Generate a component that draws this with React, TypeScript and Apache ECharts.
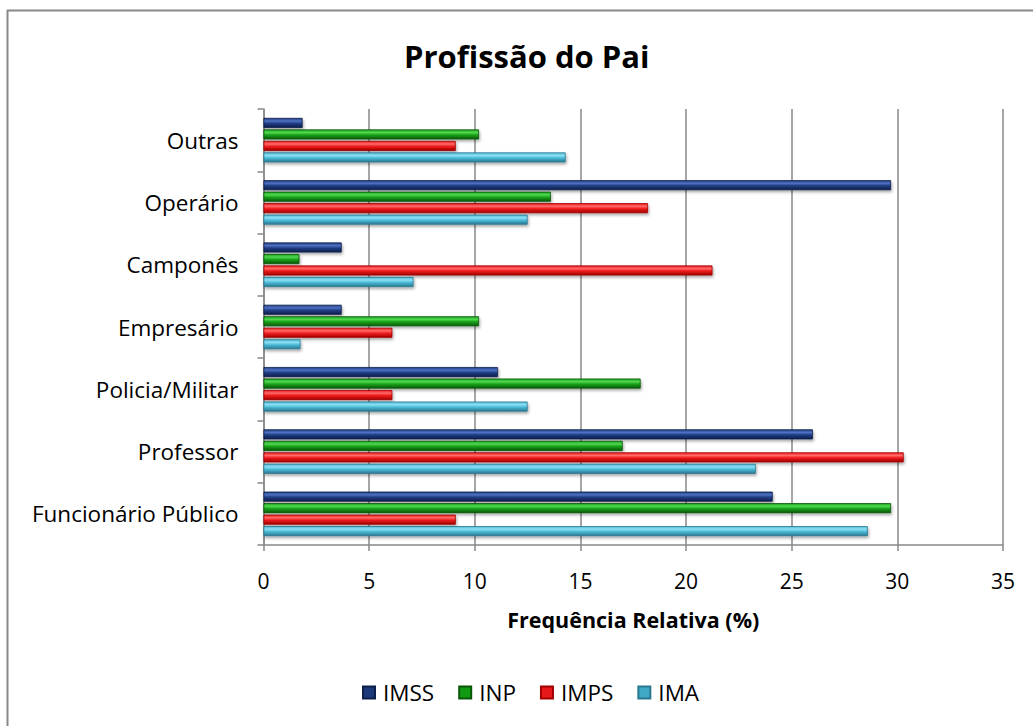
import React, { useEffect, useRef } from "react";
import * as echarts from "echarts";

const categories = [
  "Funcionário Público",
  "Professor",
  "Policia/Militar",
  "Empresário",
  "Camponês",
  "Operário",
  "Outras",
];
const imss = [24.1, 26.0, 11.1, 3.7, 3.7, 29.7, 1.85];
const inp = [29.7, 17.0, 17.85, 10.2, 1.7, 13.6, 10.2];
const imps = [9.1, 30.3, 6.1, 6.1, 21.25, 18.2, 9.1];
const ima = [28.6, 23.3, 12.5, 1.75, 7.1, 12.5, 14.3];
const xTicks = [0, 5, 10, 15, 20, 25, 30, 35];
const legendOrder = ["IMSS", "INP", "IMPS", "IMA"];

const FONT = "'Open Sans', sans-serif";

function grad(light: string, mid: string, dark: string) {
  return new echarts.graphic.LinearGradient(0, 0, 0, 1, [
    { offset: 0, color: mid },
    { offset: 0.3, color: light },
    { offset: 0.55, color: mid },
    { offset: 1, color: dark },
  ]);
}

export default function App() {
  const ref = useRef<HTMLDivElement>(null);
  useEffect(() => {
    if (!ref.current) return;
    const chart = echarts.init(ref.current, undefined, { renderer: "svg" });
    const mk = (name: string, data: number[], light: string, mid: string, dark: string) => ({
      name,
      type: "bar",
      data,
      barWidth: 10,
      barGap: "15%",
      itemStyle: {
        color: grad(light, mid, dark),
        borderColor: dark,
        borderWidth: 0.8,
        shadowColor: "rgba(0,0,0,0.35)",
        shadowBlur: 3,
        shadowOffsetX: 1,
        shadowOffsetY: 2,
      },
    });
    chart.setOption({
      animation: false,
      backgroundColor: "#ffffff",
      title: {
        text: "Profissão do Pai",
        left: 399,
        top: 35,
        textStyle: { fontFamily: FONT, fontSize: 31, fontWeight: "bold", color: "#000" },
      },
      grid: { left: 263.5, right: 30, top: 109, bottom: 181, containLabel: false },
      legend: {
        data: legendOrder.map((n, i) => ({
          name: n,
          itemStyle: {
            color: ["#1c3878", "#139a13", "#e81818", "#3fa9c4"][i],
          },
        })),
        bottom: 17,
        left: 357,
        icon: "rect",
        itemWidth: 12,
        itemHeight: 12,
        itemGap: 24,
        textStyle: { fontFamily: FONT, fontSize: 22.5, color: "#000", padding: [0, 0, 0, 3] },
      },
      xAxis: {
        type: "value",
        min: 0,
        max: 35,
        interval: 5,
        name: "Frequência Relativa (%)",
        nameLocation: "middle",
        nameGap: 63,
        nameTextStyle: { fontFamily: FONT, fontSize: 21.5, fontWeight: "bold", color: "#000" },
        axisLine: { show: true, lineStyle: { color: "#888", width: 1.5 } },
        axisTick: { show: true, length: 6, lineStyle: { color: "#888", width: 1.5 } },
        axisLabel: {
          fontFamily: FONT,
          fontSize: 21,
          color: "#000",
          margin: 25,
          formatter: (v: number) => (xTicks.includes(v) ? String(v) : ""),
        },
        splitLine: { show: true, lineStyle: { color: "#888", width: 1.5 } },
      },
      yAxis: {
        type: "category",
        data: categories,
        axisLine: { show: true, lineStyle: { color: "#888", width: 1.5 } },
        axisTick: { show: true, length: 6, lineStyle: { color: "#888", width: 1.5 } },
        axisLabel: { fontFamily: FONT, fontSize: 22.5, color: "#000", margin: 25 },
      },
      graphic: [
        {
          type: "line",
          shape: { x1: 7.5, y1: 10, x2: 7.5, y2: 726 },
          style: { stroke: "#888", lineWidth: 2 },
        },
        {
          type: "line",
          shape: { x1: 7, y1: 10.5, x2: 1033, y2: 10.5 },
          style: { stroke: "#888", lineWidth: 2 },
        },
      ],
      series: [
        mk("IMSS", imss, "#4f72c2", "#213f86", "#0e1e4a"),
        mk("INP", inp, "#52d852", "#1aa41a", "#085808"),
        mk("IMPS", imps, "#ff6a6a", "#f01c1c", "#a00000"),
        mk("IMA", ima, "#8ee0f4", "#4cbcd8", "#2a7890"),
      ],
    });
    return () => chart.dispose();
  }, []);
  return (
    <div
      ref={ref}
      style={{ position: "fixed", left: 0, top: 0, width: 1033, height: 726, background: "#fff" }}
    />
  );
}
